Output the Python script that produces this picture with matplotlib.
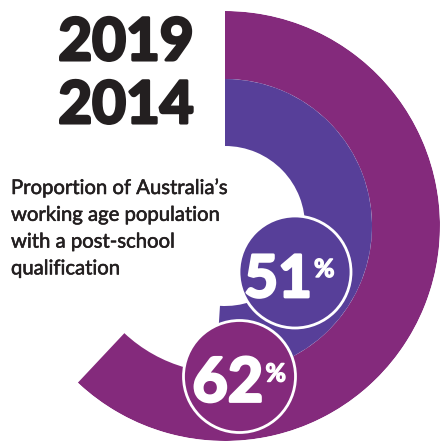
import numpy as np
import matplotlib.pyplot as plt
import matplotlib.patheffects as pe
from matplotlib.patches import Circle

# === Data ===
years = ["2019", "2014"]
shares = [62, 51]            # % of working age population with post-school qualification
share_labels = ["62", "51"]
caption = ["Proportion of Australia\u2019s",
           "working age population",
           "with a post-school",
           "qualification"]

# === Style ===
ring_colors = ["#842A7C", "#573F99"]
ink = "#231F20"
heavy = dict(family=["Lato", "DejaVu Sans"], weight="bold")

def fat(color, lw):
    return [pe.withStroke(linewidth=lw, foreground=color)]

fig = plt.figure(figsize=(4.4, 4.44), dpi=100)

# === Rings (pixel radii) ===
R = 215
rings = [(147, 68), (80, 67)]   # (inner radius, thickness) for 2019, 2014

ax = fig.add_axes([10 / 440, 3 / 444, 430 / 440, 430 / 444], projection="polar")
ax.set_theta_zero_location("N")
ax.set_theta_direction(-1)
ax.set_ylim(0, R)
ax.axis("off")
for val, (bottom, h), c in zip(shares, rings, ring_colors):
    sweep = np.deg2rad(val / 100 * 360)
    ax.bar(0, h, width=sweep, bottom=bottom, align="edge", color=c, linewidth=0)

# === Overlay in pixel coords for text and badges ===
ov = fig.add_axes([0, 0, 1, 1])
ov.set_xlim(0, 440)
ov.set_ylim(444, 0)
ov.axis("off")

# years
ov.text(126, 60, years[0], ha="center", va="baseline", fontsize=42, color=ink,
        path_effects=fat(ink, 2.2), **heavy)
ov.text(126, 123, years[1], ha="center", va="baseline", fontsize=42, color=ink,
        path_effects=fat(ink, 2.2), **heavy)

# caption
for i, line in enumerate(caption):
    ov.text(11, 194 + i * 26.8, line, ha="left", va="baseline", fontsize=14.6,
            color=ink, family=["Lato", "DejaVu Sans"],
            path_effects=fat(ink, 0.4))

# badges: centre, digit size, right edge of digits, left edge of %
badges = [((239.5, 376.5), 44, 24, 26), ((295, 272), 42, 17, 19)]
for lab, c, ((cx, cy), big, dx, px) in zip(share_labels, ring_colors, badges):
    ov.add_patch(Circle((cx, cy), 56, fc=c, ec="white", lw=2, zorder=3))
    ov.text(cx + dx, cy + 25, lab, ha="right", va="baseline", fontsize=big,
            color="white", zorder=4, path_effects=fat("white", 2), **heavy)
    ov.text(cx + px, cy + 5, "%", ha="left", va="baseline", fontsize=18,
            color="white", zorder=4, path_effects=fat("white", 1), **heavy)

fig.savefig("out.png", dpi=100)
